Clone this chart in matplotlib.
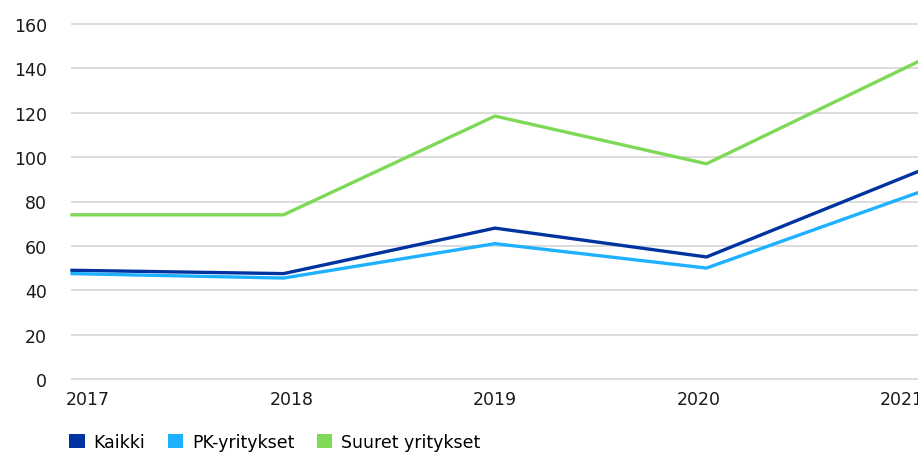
import matplotlib.pyplot as plt
import matplotlib.transforms as mtransforms
from matplotlib.patches import Patch

# Data
years = ["2017", "2018", "2019", "2020", "2021"]
kaikki = [49, 47.5, 68, 55, 93.5]
pk_yritykset = [47.5, 45.5, 61, 50, 84]
suuret_yritykset = [74, 74, 118.5, 97, 143]
y_ticks = [0, 20, 40, 60, 80, 100, 120, 140, 160]

series_labels = ["Kaikki", "PK-yritykset", "Suuret yritykset"]
colors = ["#0033a0", "#1eb1ff", "#7ed957"]

plt.rcParams['font.family'] = ['DejaVu Sans']

fig = plt.figure(figsize=(9.18, 4.56), dpi=100)
ax = fig.add_axes([72 / 918, 1 - 380 / 456, 1 - 72 / 918, (380 - 25) / 456])

x = list(range(len(years)))
for vals, c in zip([kaikki, pk_yritykset, suuret_yritykset], colors):
    ax.plot(x, vals, color=c, linewidth=2.4, solid_joinstyle='miter', zorder=3, clip_on=False)

ax.set_xlim(0, len(years) - 1)
ax.set_ylim(0, 160)
ax.set_yticks(y_ticks)
ax.set_xticks(x)
ax.set_xticklabels(years)
ax.grid(axis='y', color='#d9d9d9', linewidth=1.3)
for gl in ax.get_ygridlines():
    gl.set_clip_on(False)
ax.set_axisbelow(True)
for s in ax.spines.values():
    s.set_visible(False)
ax.tick_params(axis='y', length=0, pad=18, labelsize=12.5, labelcolor='#1a1a1a')
ax.tick_params(axis='x', length=0, pad=8, labelsize=12.5, labelcolor='#1a1a1a')

# labels are spread slightly narrower than the data points
for i, lbl in enumerate(ax.get_xticklabels()):
    dx = (2 - i) * 8 / 100
    lbl.set_transform(lbl.get_transform() + mtransforms.ScaledTranslation(dx, 0, fig.dpi_scale_trans))

handles = [Patch(facecolor=c, edgecolor='none') for c in colors]
fig.legend(handles, series_labels, loc='center left', bbox_to_anchor=(62 / 918, 1 - 443 / 456),
           ncol=3, frameon=False, fontsize=12.5, handlelength=0.9, handleheight=0.9,
           handletextpad=0.5, columnspacing=1.3, borderaxespad=0)

fig.savefig("out.png", dpi=100)
